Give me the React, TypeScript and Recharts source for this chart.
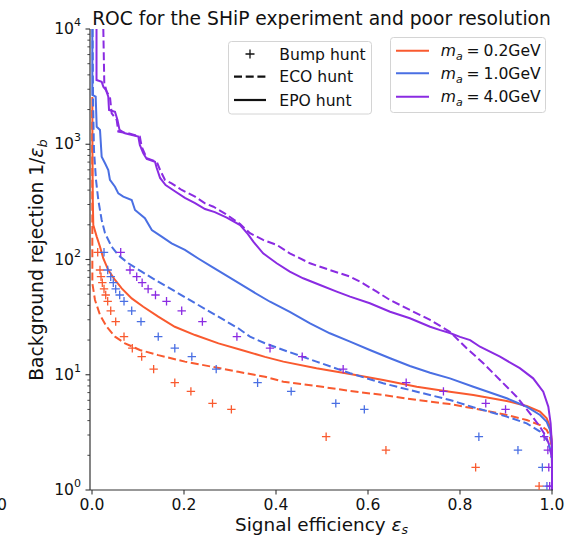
import { ComposedChart, Line, Scatter, XAxis, YAxis } from "recharts";

type Pt = [number, number];

// signal efficiency vs background rejection
const epo02: Pt[] = [
  [0.0007, 2570], [0.001, 890], [0.0017, 328], [0.0028, 199], [0.0102, 158], [0.0174, 129],
  [0.0246, 102], [0.0354, 81], [0.05, 66.4], [0.0646, 56.2], [0.0863, 46.0], [0.1115, 38.9],
  [0.144, 31.9], [0.18, 26.1], [0.224, 22.1], [0.275, 18.7], [0.325, 16.4], [0.376, 14.3],
  [0.416, 13.0], [0.488, 11.4], [0.561, 10.15], [0.633, 9.0], [0.706, 7.87], [0.778, 7.13],
  [0.829, 6.67], [0.9015, 5.92], [0.945, 5.35], [0.974, 4.78], [0.9885, 4.19], [0.9957, 3.54],
  [0.9993, 2.72], [1.0, 1.71], [1.0, 1.0],
];

const eco02: Pt[] = [
  [0.0005, 1980], [0.0007, 328], [0.0007, 121], [0.0008, 62.1], [0.0065, 44.5], [0.0174, 33.0],
  [0.032, 26.1], [0.05, 21.4], [0.0717, 18.75], [0.104, 16.4], [0.144, 14.8], [0.202, 13.0],
  [0.26, 11.75], [0.318, 10.6], [0.376, 9.61], [0.416, 8.7], [0.488, 7.99], [0.561, 7.23],
  [0.633, 6.67], [0.706, 6.04], [0.778, 5.57], [0.829, 5.11], [0.9015, 4.48], [0.945, 4.05],
  [0.974, 3.66], [0.9885, 3.32], [0.9957, 2.9], [1.0, 2.22],
];

const epo10: Pt[] = [
  [0.0007, 10000], [0.0007, 2675], [0.008, 2587], [0.0102, 1420], [0.0174, 1330], [0.021, 780],
  [0.0283, 684], [0.0354, 598], [0.039, 490], [0.05, 428], [0.0572, 375], [0.068, 351],
  [0.0863, 328], [0.0935, 269], [0.115, 228], [0.13, 180], [0.1515, 158], [0.173, 138],
  [0.202, 121], [0.231, 102], [0.26, 86.6], [0.296, 71], [0.3435, 54.4], [0.387, 43],
  [0.43, 35.2], [0.474, 27.9], [0.517, 22.9], [0.561, 19.4], [0.604, 16.4], [0.648, 13.9],
  [0.691, 11.9], [0.735, 10.4], [0.778, 9.31], [0.829, 7.87], [0.9015, 6.25], [0.945, 5.28],
  [0.974, 4.48], [0.9885, 3.91], [0.9957, 3.32], [0.9993, 2.56], [1.0, 1.49], [1.0, 1.0],
];

const eco10: Pt[] = [
  [0.0013, 10000], [0.0022, 2420], [0.0043, 891], [0.0087, 490], [0.0137, 328], [0.021, 220],
  [0.0283, 169], [0.0428, 129], [0.0572, 109], [0.079, 92.7], [0.108, 78.4], [0.144, 64.2],
  [0.1876, 50.9], [0.231, 40.3], [0.2746, 31.9], [0.318, 25.3], [0.3435, 21.4], [0.376, 18.75],
  [0.416, 16.4], [0.488, 13.0], [0.561, 10.3], [0.633, 8.43], [0.706, 7.13], [0.778, 6.04],
  [0.829, 5.22], [0.9015, 4.33], [0.945, 3.79], [0.974, 3.21], [0.9885, 2.72], [0.9957, 2.3],
  [0.9989, 1.9],
];

const epo40: Pt[] = [
  [0.0098, 10000], [0.0098, 3610], [0.021, 3490], [0.0246, 3160], [0.0304, 2956], [0.0354, 2587],
  [0.037, 1983], [0.05, 1916], [0.0554, 1622], [0.0598, 1330], [0.0717, 1245], [0.1007, 1164],
  [0.104, 985], [0.1115, 834], [0.119, 745], [0.137, 706], [0.1407, 622], [0.148, 510],
  [0.16, 443], [0.176, 401], [0.202, 342], [0.224, 309], [0.2457, 274], [0.267, 258],
  [0.293, 231], [0.322, 199], [0.339, 166], [0.3507, 143], [0.372, 113], [0.4015, 92.7],
  [0.43, 78.4], [0.459, 68.7], [0.4957, 60.1], [0.532, 52.6], [0.561, 47.6], [0.604, 41.7],
  [0.648, 35.2], [0.691, 30.9], [0.735, 26.1], [0.757, 24.4], [0.778, 23.0], [0.8, 21.3],
  [0.822, 20.0], [0.8435, 17.5], [0.887, 14.35], [0.93, 11.4], [0.959, 9.31], [0.981, 7.13],
  [0.992, 5.28], [0.997, 3.79], [1.0, 2.37], [1.0, 1.0],
];

const eco40: Pt[] = [
  [0.0246, 10000], [0.0267, 3380], [0.032, 2858], [0.039, 2587], [0.0428, 1857], [0.0537, 1622],
  [0.0572, 1285], [0.079, 1245], [0.104, 1164], [0.108, 953], [0.119, 755], [0.1407, 706],
  [0.148, 598], [0.1587, 490], [0.173, 458], [0.195, 401], [0.224, 351], [0.2457, 307],
  [0.264, 287], [0.291, 248], [0.322, 203], [0.3435, 169], [0.372, 148], [0.4015, 134],
  [0.43, 113], [0.474, 92.7], [0.517, 81.1], [0.561, 71], [0.583, 64.2], [0.619, 52.6],
  [0.648, 44.5], [0.691, 36.5], [0.735, 29.9], [0.778, 23.6], [0.8145, 17.0], [0.8507, 12.6],
  [0.887, 9.0], [0.923, 6.45], [0.952, 4.63], [0.974, 3.54], [0.987, 2.9], [0.9957, 2.37],
  [1.0, 1.82],
];

// bump hunt: shared rejection levels, one efficiency per level and mass
const bumpLevels = [115.5, 81.1, 70.9, 62.9, 55.5, 49.2, 43.4, 35.9, 28.9, 21.4, 17.0, 14.35, 11.2, 8.53, 7.18, 5.65, 5.01, 2.9, 2.22, 1.57, 1.08];
const bumpX02 = [0.0124, 0.0174, 0.0196, 0.0224, 0.0261, 0.0298, 0.0341, 0.0407, 0.0515, 0.0696, 0.0876, 0.108, 0.134, 0.18, 0.215, 0.262, 0.303, 0.509, 0.639, 0.834, 0.972];
const bumpX10 = [0.0261, 0.0341, 0.0407, 0.0463, 0.0515, 0.0602, 0.0696, 0.0863, 0.1065, 0.144, 0.18, 0.217, 0.27, 0.36, 0.433, 0.53, 0.592, 0.841, 0.926, 0.979, 0.989];
const bumpX40 = [0.0624, 0.0826, 0.0972, 0.109, 0.122, 0.138, 0.162, 0.195, 0.24, 0.315, 0.387, 0.457, 0.546, 0.683, 0.764, 0.856, 0.899, 0.983, 0.991, 0.993, 0.995];

const masses = ["0.2", "1.0", "4.0"];
const xTicks = [0, 0.2, 0.4, 0.6, 0.8, 1.0];
const yMajor = [1, 10, 100, 1000, 10000];

const ORANGE = "#f95a2f";
const BLUE = "#4a6fe3";
const PURPLE = "#8a2be2";
const AXIS = "#333";
const FONT = "DejaVu Sans, sans-serif";

const X_MIN = -0.00435;
const X_MAX = 1.00217;

const yTicks = [
  ...yMajor,
  ...yMajor.slice(0, 4).flatMap((d) => [2, 3, 4, 5, 6, 7, 8, 9].map((k) => k * d)),
].sort((a, b) => a - b);

const toObj = (pts: Pt[]) => pts.map(([x, y]) => ({ x, y }));
const bump = (xs: number[]) => xs.map((x, i) => ({ x, y: bumpLevels[i] }));

const curves = [
  { key: "eco02", data: eco02, color: ORANGE, dashed: true },
  { key: "epo02", data: epo02, color: ORANGE, dashed: false },
  { key: "eco10", data: eco10, color: BLUE, dashed: true },
  { key: "epo10", data: epo10, color: BLUE, dashed: false },
  { key: "eco40", data: eco40, color: PURPLE, dashed: true },
  { key: "epo40", data: epo40, color: PURPLE, dashed: false },
];

const bumps = [
  { key: "b02", xs: bumpX02, color: ORANGE },
  { key: "b10", xs: bumpX10, color: BLUE },
  { key: "b40", xs: bumpX40, color: PURPLE },
];

const plusShape = (color: string) => (props: any) => {
  const { cx, cy } = props;
  if (cx == null || cy == null) return <g />;
  return (
    <path
      d={`M${cx - 4.2},${cy}H${cx + 4.2}M${cx},${cy - 4.2}V${cy + 4.2}`}
      stroke={color}
      strokeWidth={1.3}
      fill="none"
    />
  );
};

const XTick = (props: any) => {
  const { x, y, payload } = props;
  return (
    <g>
      <line x1={x} x2={x} y1={y} y2={y + 4.5} stroke={AXIS} strokeWidth={1.1} />
      <text x={x} y={y + 20} textAnchor="middle" fontSize={15.6} fontFamily={FONT} fill="#111">
        {Number(payload.value).toFixed(1)}
      </text>
    </g>
  );
};

const YTick = (props: any) => {
  const { x, y, payload } = props;
  const lg = Math.log10(payload.value);
  const exp = Math.round(lg);
  const major = Math.abs(lg - exp) < 1e-6;
  return (
    <g>
      <line x1={x} x2={x - (major ? 4.5 : 2.6)} y1={y} y2={y} stroke={AXIS} strokeWidth={major ? 1.1 : 0.9} />
      {major && (
        <text x={x - 9} y={y + 5} textAnchor="end" fontSize={15.6} fontFamily={FONT} fill="#111">
          10
          <tspan dy={-8} fontSize={11}>
            {exp}
          </tspan>
        </text>
      )}
    </g>
  );
};

const Legends = () => (
  <svg
    width={577}
    height={537}
    style={{ position: "absolute", left: 0, top: 0, pointerEvents: "none" }}
    fontFamily={FONT}
  >
    <text x={321.5} y={25} textAnchor="middle" fontSize={18.7} fill="#111">
      ROC for the SHiP experiment and poor resolution
    </text>
    <text x={321.5} y={531} textAnchor="middle" fontSize={18.4} fill="#111">
      Signal efficiency <tspan fontStyle="italic">ε</tspan>
      <tspan fontStyle="italic" fontSize={12.5} dy={2.5}>s</tspan>
    </text>
    <text transform="translate(42.5,260) rotate(-90)" textAnchor="middle" fontSize={18.7} fill="#111">
      Background rejection 1/<tspan fontStyle="italic">ε</tspan>
      <tspan fontStyle="italic" fontSize={13} dy={4}>b</tspan>
    </text>
    <text x={-3} y={510} fontSize={15.6} fill="#111">0</text>

    {/* line style legend */}
    <rect x={228.5} y={41.5} width={143} height={72.5} rx={3} fill="#fff" fillOpacity={0.8} stroke="#d4d4d4" />
    <path d="M245.5,54H254.5M250,49.5V58.5" stroke="#111" strokeWidth={1.3} />
    <text x={279.3} y={59.7} fontSize={15.6} fill="#111">Bump hunt</text>
    <line x1={234} x2={266} y1={76.7} y2={76.7} stroke="#111" strokeWidth={2.2} strokeDasharray="8 3.7" />
    <text x={279.3} y={82.4} fontSize={15.6} fill="#111">ECO hunt</text>
    <line x1={234} x2={266} y1={100} y2={100} stroke="#111" strokeWidth={2.2} />
    <text x={279.3} y={105.7} fontSize={15.6} fill="#111">EPO hunt</text>

    {/* mass legend */}
    <rect x={390.5} y={37.5} width={155} height={75} rx={3} fill="#fff" fillOpacity={0.8} stroke="#d4d4d4" />
    {masses.map((m, i) => {
      const cy = [50.7, 73.3, 96.7][i];
      const c = [ORANGE, BLUE, PURPLE][i];
      return (
        <g key={m}>
          <line x1={396} x2={429} y1={cy} y2={cy} stroke={c} strokeWidth={2} />
          <text x={440.7} y={cy + 5.7} fontSize={15.6} fill="#111">
            <tspan fontStyle="italic">m</tspan>
            <tspan fontStyle="italic" fontSize={11} dy={3.5}>a</tspan>
            <tspan dy={-3.5}>{`\u2005=\u2005${m}GeV`}</tspan>
          </text>
        </g>
      );
    })}
  </svg>
);

export default function App() {
  const frame = { stroke: AXIS, strokeWidth: 1.2 };
  return (
    <div style={{ position: "absolute", left: 0, top: 0, width: 577, height: 537, background: "#fff", fontFamily: FONT }}>
      <ComposedChart width={577} height={537} margin={{ top: 29, right: 24, bottom: 17, left: 40 }}>
        <XAxis
          dataKey="x"
          type="number"
          domain={[X_MIN, X_MAX]}
          allowDataOverflow
          ticks={xTicks}
          interval={0}
          tick={(p: any) => <XTick {...p} />}
          tickLine={false}
          tickSize={0}
          tickMargin={0}
          height={30}
          axisLine={frame}
        />
        <XAxis
          xAxisId="top"
          orientation="top"
          type="number"
          domain={[X_MIN, X_MAX]}
          allowDataOverflow
          height={0}
          tick={false}
          tickLine={false}
          axisLine={frame}
        />
        <YAxis
          dataKey="y"
          type="number"
          scale="log"
          domain={[1, 10000]}
          allowDataOverflow
          ticks={yTicks}
          interval={0}
          tick={(p: any) => <YTick {...p} />}
          tickLine={false}
          tickSize={0}
          tickMargin={0}
          width={50}
          axisLine={frame}
        />
        <YAxis
          yAxisId="right"
          orientation="right"
          type="number"
          domain={[0, 1]}
          allowDataOverflow
          width={0}
          tick={false}
          tickLine={false}
          axisLine={frame}
        />
        {bumps.map((b) => (
          <Scatter
            key={b.key}
            data={bump(b.xs)}
            dataKey="y"
            shape={plusShape(b.color)}
            isAnimationActive={false}
          />
        ))}
        {curves.map((c) => (
          <Line
            key={c.key}
            data={toObj(c.data)}
            dataKey="y"
            type="linear"
            stroke={c.color}
            strokeWidth={2}
            strokeDasharray={c.dashed ? "8 3.6" : undefined}
            dot={false}
            activeDot={false}
            isAnimationActive={false}
          />
        ))}
      </ComposedChart>
      <Legends />
    </div>
  );
}
